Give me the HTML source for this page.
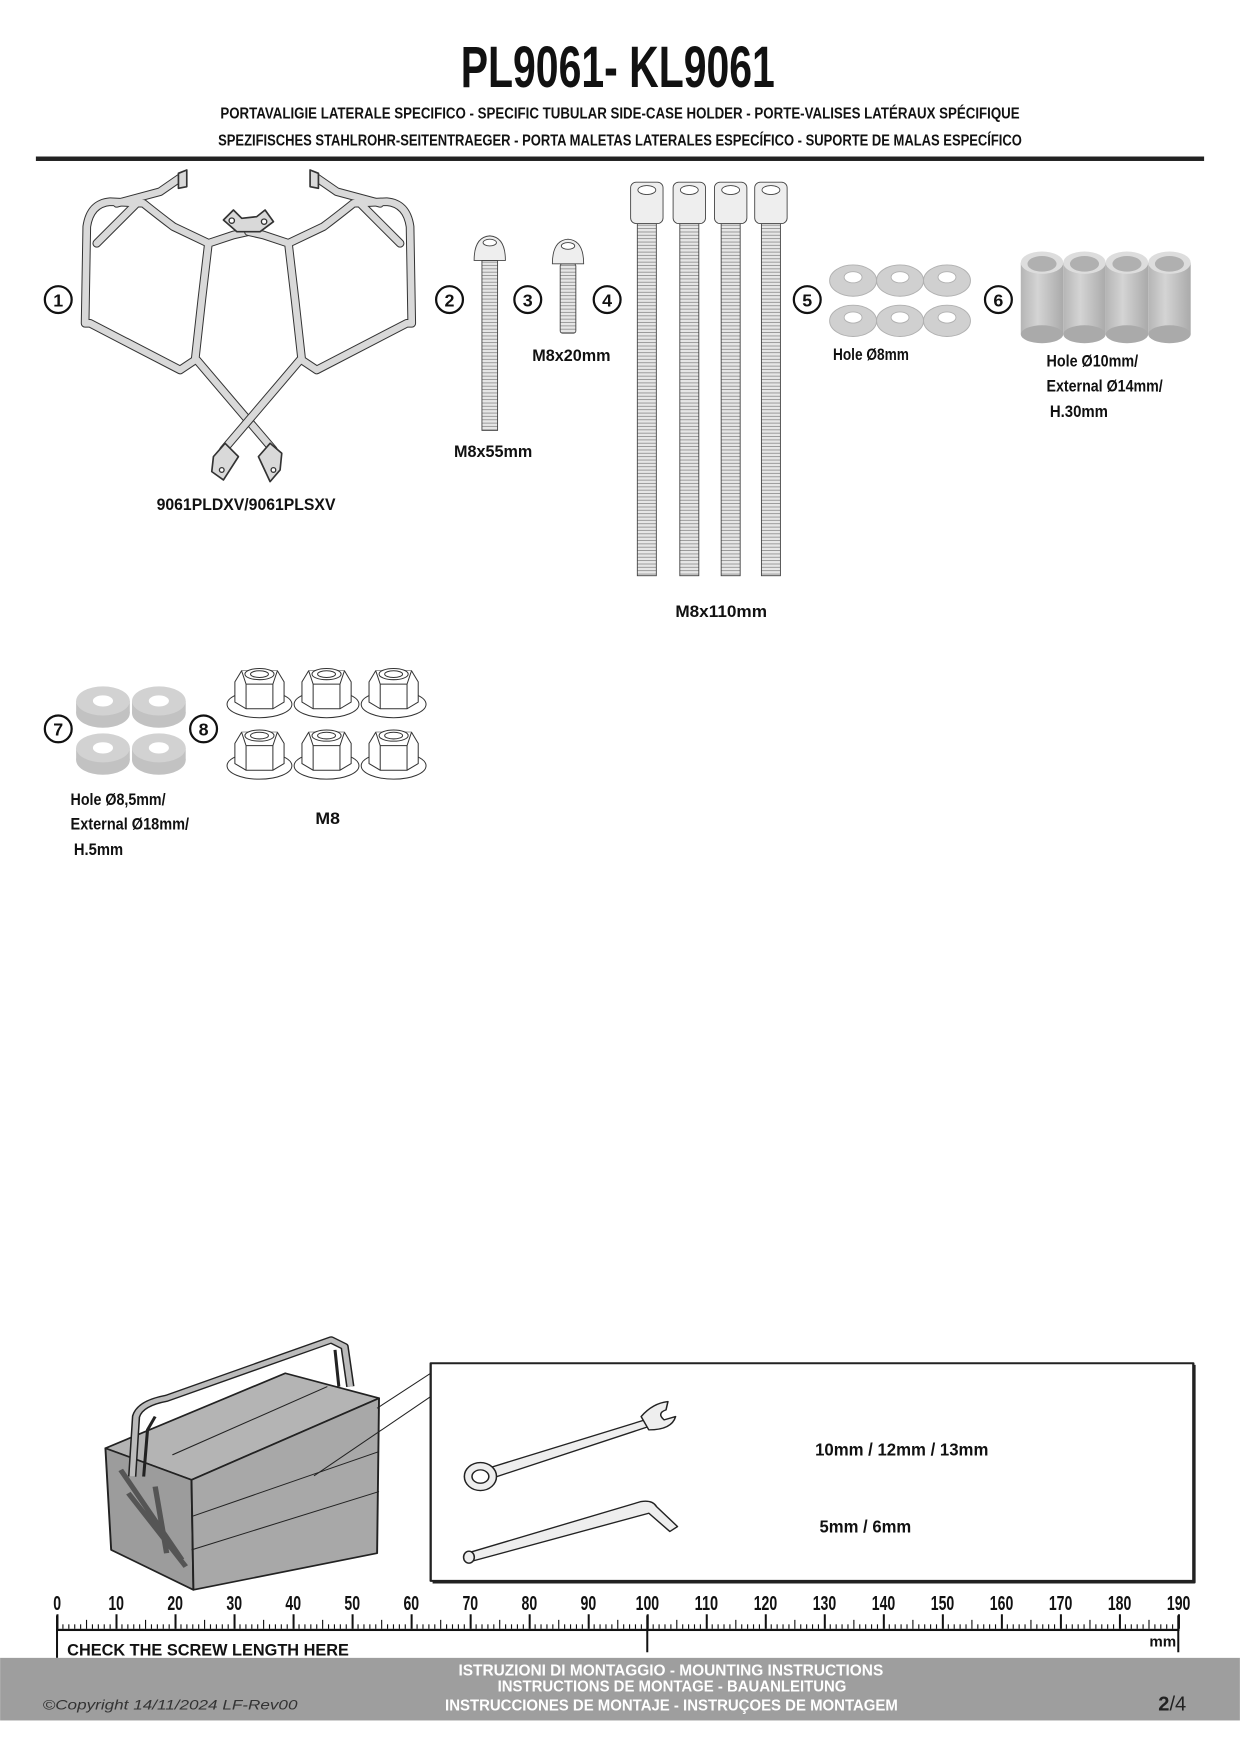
<!DOCTYPE html>
<html><head><meta charset="utf-8"><style>
html,body{margin:0;padding:0;background:#fff}
svg{display:block}
.c{font-family:"Liberation Sans","DejaVu Sans",sans-serif;font-weight:bold}
</style></head><body>
<svg width="1240" height="1754" viewBox="0 0 1109 1569" xmlns="http://www.w3.org/2000/svg">
<defs>
<pattern id="thr" width="10" height="3" patternUnits="userSpaceOnUse"><rect width="10" height="3" fill="#e6e6e6"/><line x1="0" y1="0.5" x2="10" y2="0.5" stroke="#777" stroke-width="0.6"/></pattern>
<linearGradient id="cyl" x1="0" x2="1"><stop offset="0" stop-color="#b5b5b5"/><stop offset="0.4" stop-color="#d4d4d4"/><stop offset="1" stop-color="#aaa"/></linearGradient>
</defs>
<rect width="1109" height="1569" fill="#fff"/>

<!-- Header -->
<text class="c" x="412" y="78" font-size="52" textLength="281" lengthAdjust="spacingAndGlyphs" fill="#111">PL9061- KL9061</text>
<text class="c" x="197" y="106" font-size="14" textLength="715" lengthAdjust="spacingAndGlyphs" fill="#111">PORTAVALIGIE LATERALE SPECIFICO  -  SPECIFIC TUBULAR SIDE-CASE HOLDER  - PORTE-VALISES LATÉRAUX SPÉCIFIQUE</text>
<text class="c" x="195" y="130" font-size="14" textLength="719" lengthAdjust="spacingAndGlyphs" fill="#111">SPEZIFISCHES STAHLROHR-SEITENTRAEGER - PORTA MALETAS LATERALES ESPECÍFICO - SUPORTE DE MALAS ESPECÍFICO</text>
<rect x="32" y="140" width="1045" height="4" fill="#222"/>

<!-- Number circles -->
<g fill="none" stroke="#111" stroke-width="2">
<circle cx="52" cy="268" r="12"/><circle cx="402" cy="268" r="12"/><circle cx="472" cy="268" r="12"/><circle cx="543" cy="268" r="12"/>
<circle cx="722" cy="268" r="12"/><circle cx="893" cy="268" r="12"/><circle cx="52" cy="652" r="12"/><circle cx="182" cy="652" r="12"/>
</g>
<g class="c" font-size="16" text-anchor="middle" fill="#111">
<text x="52" y="274">1</text><text x="402" y="274">2</text><text x="472" y="274">3</text><text x="543" y="274">4</text>
<text x="722" y="274">5</text><text x="893" y="274">6</text><text x="52" y="658">7</text><text x="182" y="658">8</text>
</g>

<!-- Frame (zoom coords) -->
<g transform="scale(0.8945) translate(60,160) scale(0.3333)" fill="none" stroke-linejoin="round" stroke-linecap="round">
<g id="fr">
<path d="M365,50 L300,95 L170,130 M110,250 L230,130 M75,490 L80,200 Q90,130 150,125 L250,130 Q300,170 340,200 L445,250 L425,420 L405,600 L360,630 L90,490 L75,490 M445,250 L520,225 L565,215 M410,600 L640,870" stroke="#333" stroke-width="26"/>
<path d="M365,50 L300,95 L170,130 M110,250 L230,130 M75,490 L80,200 Q90,130 150,125 L250,130 Q300,170 340,200 L445,250 L425,420 L405,600 L360,630 L90,490 L75,490 M445,250 L520,225 L565,215 M410,600 L640,870" stroke="#d9d9d9" stroke-width="20"/>
</g>
<use href="#fr" transform="translate(1130,0) scale(-1,1)"/>
<path d="M490,180 L520,150 L545,175 L590,170 L615,150 L640,185 L600,215 L530,215 Z" fill="#d9d9d9" stroke="#333" stroke-width="5"/>
<circle cx="515" cy="182" r="8" fill="#fff" stroke="#333" stroke-width="4"/><circle cx="612" cy="185" r="8" fill="#fff" stroke="#333" stroke-width="4"/>
<path d="M460,890 L495,850 L535,890 L490,960 L455,935 Z" fill="#d9d9d9" stroke="#333" stroke-width="5"/>
<path d="M595,890 L630,850 L665,880 L660,930 L630,965 Z" fill="#d9d9d9" stroke="#333" stroke-width="5"/>
<circle cx="485" cy="930" r="7" fill="#fff" stroke="#333" stroke-width="4"/><circle cx="640" cy="930" r="7" fill="#fff" stroke="#333" stroke-width="4"/>
<path d="M355,40 L380,30 L380,80 L355,85 Z M775,40 L750,30 L750,80 L775,85 Z" fill="#d9d9d9" stroke="#333" stroke-width="5"/>
</g>
<text class="c" x="140" y="456" font-size="15" textLength="160" lengthAdjust="spacingAndGlyphs" fill="#111">9061PLDXV/9061PLSXV</text>

<!-- Bolts -->
<g stroke="#444" stroke-width="0.8">
<rect x="431" y="233" width="14" height="152" fill="url(#thr)"/>
<path d="M424,233 Q424,212 438,211 Q452,212 452,233 Z" fill="#eee"/>
<ellipse cx="438" cy="217" rx="6" ry="3" fill="#fff"/>
<rect x="501" y="236" width="14" height="62" rx="2" fill="url(#thr)"/>
<path d="M494,236 Q494,215 508,214 Q522,215 522,236 Z" fill="#eee"/>
<ellipse cx="508" cy="220" rx="6" ry="3" fill="#fff"/>
<g id="lb">
<rect x="570" y="200" width="17" height="315" fill="url(#thr)"/>
<rect x="564" y="163" width="29" height="37" rx="5" fill="#eee"/>
<ellipse cx="578.5" cy="170" rx="8" ry="4" fill="#fff"/>
</g>
<use href="#lb" transform="translate(38,0)"/><use href="#lb" transform="translate(75,0)"/><use href="#lb" transform="translate(111,0)"/>
</g>
<g class="c" font-size="15" fill="#111">
<text x="406" y="409" textLength="70" lengthAdjust="spacingAndGlyphs">M8x55mm</text>
<text x="476" y="323" textLength="70" lengthAdjust="spacingAndGlyphs">M8x20mm</text>
<text x="604" y="552" textLength="82" lengthAdjust="spacingAndGlyphs">M8x110mm</text>
<text x="745" y="322" textLength="68" lengthAdjust="spacingAndGlyphs">Hole Ø8mm</text>
<text x="936" y="328" textLength="82" lengthAdjust="spacingAndGlyphs">Hole Ø10mm/</text>
<text x="936" y="350" textLength="104" lengthAdjust="spacingAndGlyphs">External Ø14mm/</text>
<text x="939" y="373" textLength="52" lengthAdjust="spacingAndGlyphs">H.30mm</text>
<text x="63" y="720" textLength="85" lengthAdjust="spacingAndGlyphs">Hole Ø8,5mm/</text>
<text x="63" y="742" textLength="106" lengthAdjust="spacingAndGlyphs">External Ø18mm/</text>
<text x="66" y="765" textLength="44" lengthAdjust="spacingAndGlyphs">H.5mm</text>
<text x="282" y="737" textLength="22" lengthAdjust="spacingAndGlyphs">M8</text>
</g>

<!-- Washers 5 -->
<g fill="#d0d0d0" stroke="#b0b0b0" stroke-width="0.8">
<g id="w5"><ellipse cx="763" cy="287" rx="21" ry="14"/><ellipse cx="763" cy="284" rx="8" ry="5" fill="#fff"/></g>
<use href="#w5" transform="translate(42,0)"/><use href="#w5" transform="translate(84,0)"/>
<use href="#w5" transform="translate(0,-36)"/><use href="#w5" transform="translate(42,-36)"/><use href="#w5" transform="translate(84,-36)"/>
</g>

<!-- Spacers 6 -->
<g id="sp">
<rect x="913" y="235" width="38" height="64" fill="url(#cyl)"/>
<ellipse cx="932" cy="299" rx="19" ry="8" fill="#aaa"/>
<ellipse cx="932" cy="235" rx="19" ry="10" fill="#ddd"/>
<ellipse cx="932" cy="236" rx="13" ry="7" fill="#b0b0b0"/>
</g>
<use href="#sp" transform="translate(38,0)"/><use href="#sp" transform="translate(76,0)"/><use href="#sp" transform="translate(114,0)"/>

<!-- Washers 7 -->
<g id="w7">
<rect x="68" y="627" width="48" height="11" fill="#c2c2c2"/>
<ellipse cx="92" cy="638" rx="24" ry="13" fill="#c2c2c2"/>
<ellipse cx="92" cy="627" rx="24" ry="13" fill="#d2d2d2"/>
<ellipse cx="92" cy="627" rx="9" ry="5" fill="#fff"/>
</g>
<use href="#w7" transform="translate(50,0)"/><use href="#w7" transform="translate(0,42)"/><use href="#w7" transform="translate(50,42)"/>

<!-- Nuts 8 -->
<g id="nt" fill="#fff" stroke="#333" stroke-width="0.9">
<ellipse cx="232" cy="630" rx="29" ry="12"/>
<path d="M210,610 L216,600 L248,600 L254,610 L254,628 L244,634 L220,634 L210,628 Z"/>
<path d="M216,600 L220,612 L244,612 L248,600 M220,612 L220,634 M244,612 L244,634"/>
<ellipse cx="232" cy="603" rx="13" ry="5"/>
<ellipse cx="232" cy="603" rx="8" ry="3"/>
</g>
<use href="#nt" transform="translate(60,0)"/><use href="#nt" transform="translate(120,0)"/>
<use href="#nt" transform="translate(0,55)"/><use href="#nt" transform="translate(60,55)"/><use href="#nt" transform="translate(120,55)"/>

<!-- Toolbox + tools (zoom4 coords) -->
<g transform="translate(80.5,1180.7) scale(0.3423,0.2981)" stroke="#222" stroke-linejoin="round">
<path d="M40,385 L510,160 L755,235 L265,480 Z" fill="#b4b4b4" stroke-width="5"/>
<path d="M40,385 L265,480 L270,810 L55,690 Z" fill="#9c9c9c" stroke-width="5"/>
<path d="M265,480 L755,235 L750,700 L270,810 Z" fill="#a8a8a8" stroke-width="5"/>
<path d="M265,590 L755,395 M265,690 L755,515 M215,405 L620,200" fill="none" stroke-width="3"/>
<path d="M110,470 L120,290 Q130,250 200,235 L630,60 L665,80 L680,200" fill="none" stroke="#222" stroke-width="22"/>
<path d="M110,470 L120,290 Q130,250 200,235 L630,60 L665,80 L680,200" fill="none" stroke="#bbb" stroke-width="14"/>
<path d="M140,470 L150,330 L170,290 M640,90 L650,200" fill="none" stroke="#222" stroke-width="8"/>
<path d="M80,450 L240,720 M100,520 L250,740 M170,500 L200,700" fill="none" stroke="#555" stroke-width="14"/>
<path d="M890,160 L750,265 M890,230 L585,468" fill="none" stroke-width="3"/>
<rect x="890" y="130" width="1993" height="653" fill="none" stroke-width="6"/>
<path d="M2886,135 L2886,788 L895,788" fill="none" stroke-width="6"/>
<!-- wrench -->
<path d="M1040,445 L1450,300 L1460,320 L1050,475 Z" fill="#eee" stroke-width="4"/>
<ellipse cx="1020" cy="470" rx="42" ry="42" fill="#eee" stroke-width="4"/>
<ellipse cx="1020" cy="470" rx="22" ry="20" fill="#fff" stroke-width="4"/>
<path d="M1440,290 Q1470,250 1510,245 L1505,270 Q1480,280 1500,300 L1530,290 Q1520,330 1460,330 Z" fill="#eee" stroke-width="4"/>
<!-- allen key -->
<path d="M985,700 L1440,545 Q1470,540 1480,560 L1535,620 L1515,635 L1460,580 L995,725 Z" fill="#eee" stroke-width="4"/>
<ellipse cx="990" cy="712" rx="14" ry="18" fill="#eee" stroke-width="4"/>
</g>
<g class="c" font-size="16" fill="#111">
<text x="729" y="1302" textLength="155" lengthAdjust="spacingAndGlyphs">10mm / 12mm / 13mm</text>
<text x="733" y="1371" textLength="82" lengthAdjust="spacingAndGlyphs">5mm / 6mm</text>
</g>

<!-- Ruler -->
<g id="ruler"></g>
<rect x="50" y="1457" width="1005" height="2" fill="#111"/>
<rect x="50" y="1445" width="1.8" height="38" fill="#111"/>
<rect x="578" y="1445" width="1.8" height="33" fill="#111"/>
<rect x="1053" y="1445" width="1.8" height="33" fill="#111"/>
<g id="ticks" fill="#111"></g>
<g class="c" font-size="18" fill="#111" text-anchor="middle" id="nums"></g>
<text class="c" x="60" y="1481" font-size="15" textLength="252" lengthAdjust="spacingAndGlyphs" fill="#111">CHECK THE SCREW LENGTH HERE</text>
<text class="c" x="1028" y="1473" font-size="13" textLength="24" lengthAdjust="spacingAndGlyphs" fill="#111">mm</text>

<!-- Footer -->
<rect x="0" y="1483" width="1109" height="56" fill="#9e9e9e"/>
<g class="c" font-size="14" fill="#fff">
<text x="410" y="1499" textLength="380" lengthAdjust="spacingAndGlyphs">ISTRUZIONI DI MONTAGGIO  -  MOUNTING INSTRUCTIONS</text>
<text x="445" y="1513" textLength="312" lengthAdjust="spacingAndGlyphs">INSTRUCTIONS DE MONTAGE - BAUANLEITUNG</text>
<text x="398" y="1530" textLength="405" lengthAdjust="spacingAndGlyphs">INSTRUCCIONES DE MONTAJE - INSTRUÇOES DE MONTAGEM</text>
</g>
<text x="38" y="1529" font-family="Liberation Sans, sans-serif" font-style="italic" font-size="12" fill="#333" textLength="228" lengthAdjust="spacingAndGlyphs">©Copyright 14/11/2024 LF-Rev00</text>
<text x="1036" y="1530" font-family="Liberation Sans, sans-serif" font-size="18" fill="#222"><tspan font-weight="bold">2</tspan>/4</text>

<script>
(function(){
var ns="http://www.w3.org/2000/svg",t=document.getElementById("ticks"),n=document.getElementById("nums");
var x0=51,s=52.8;
for(var i=0;i<=190;i++){var x=x0+i*s/10,h=(i%10==0)?13:(i%5==0?8:4);
var r=document.createElementNS(ns,"rect");r.setAttribute("x",x-0.6);r.setAttribute("y",1457-h);r.setAttribute("width",i%10==0?1.8:1);r.setAttribute("height",h);t.appendChild(r);}
for(var k=0;k<=19;k++){var e=document.createElementNS(ns,"text");e.setAttribute("x",x0+k*s);e.setAttribute("y",1440);
var str=String(k*10);e.textContent=str;e.setAttribute("textLength",str.length*7);e.setAttribute("lengthAdjust","spacingAndGlyphs");n.appendChild(e);}
})();
</script>
</svg>
</body></html>
